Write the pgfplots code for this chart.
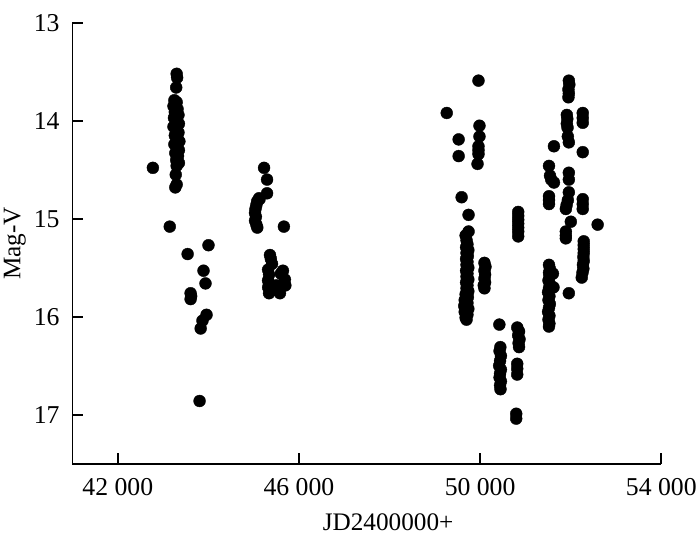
\documentclass[border=0pt]{standalone}
\usepackage{pgfplots}
\pgfplotsset{compat=1.18}
\usepackage{fontspec}
\setmainfont{Liberation Serif}
\begin{document}
\begin{tikzpicture}
\useasboundingbox (-73bp,-82bp) rectangle (632bp,467bp);
\begin{axis}[
  at={(0,0)}, anchor=south west,
  scale only axis, width=593bp, height=444bp,
  xmin=41000, xmax=54000, ymin=13, ymax=17.5,
  y dir=reverse,
  scaled x ticks=false,
  axis x line*=bottom, axis y line*=left,
  axis line style={line width=1.8bp},
  tick align=inside,
  major tick length=11bp,
  every tick/.style={line width=1.8bp, black},
  xtick={42000,46000,50000,54000},
  xticklabels={42 000,46 000,50 000,54 000},
  ytick={13,14,15,16,17},
  /pgf/number format/assume math mode=true,
  tick label style={font=\fontsize{26}{30}\selectfont},
  xticklabel style={anchor=center, yshift=-24bp},
  yticklabel style={anchor=center, xshift=-26bp},
  label style={font=\fontsize{25.5}{29}\selectfont},
  xlabel={JD2400000+},
  ylabel={Mag-V},
  xlabel style={at={(axis description cs:0.536,-0.133)}, anchor=center},
  ylabel style={at={(axis description cs:-0.098,0.5)}, anchor=center, rotate=0},
  clip=false,
]
\addplot[only marks, mark=*, mark size=6bp, black] coordinates {
(42775,14.48)
(43300,13.52)(43310,13.56)(43290,13.66)
(43250,13.79)(43300,13.81)(43230,13.85)(43320,13.88)(43260,13.91)(43340,13.94)(43240,13.97)(43300,14.00)(43350,14.03)(43230,14.06)(43300,14.09)(43340,14.12)(43260,14.15)(43320,14.18)(43360,14.21)(43250,14.24)(43310,14.27)(43350,14.30)(43270,14.33)(43330,14.36)(43290,14.40)(43350,14.43)(43300,14.46)
(43280,14.55)(43300,14.65)(43270,14.68)
(43148,15.08)(43542,15.36)(44003,15.27)(43893,15.53)(43937,15.66)(43608,15.76)(43620,15.79)(43608,15.82)(43960,15.98)(43870,16.04)(43830,16.12)(43806,16.86)
(45230,14.48)(45296,14.60)(45296,14.74)
(45121,14.79)(45080,14.82)(45060,14.86)(45040,14.90)(45030,14.94)(45050,14.98)(45030,15.02)(45060,15.06)(45080,15.09)(45130,14.80)
(45668,15.08)
(45360,15.37)(45380,15.41)(45406,15.46)(45318,15.52)(45647,15.53)(45340,15.57)(45318,15.63)(45320,15.70)(45340,15.76)(45600,15.56)(45690,15.62)(45700,15.68)(45581,15.76)(45500,15.68)(45450,15.72)
(49964,13.59)(49263,13.92)(49986,14.05)(49986,14.16)(49964,14.26)(49964,14.30)(49964,14.34)(49943,14.44)(49526,14.19)(49526,14.36)(49592,14.78)(49745,14.96)(49745,15.13)(49680,15.17)
(49701,15.22)(49720,15.26)(49690,15.29)(49740,15.32)(49700,15.35)(49730,15.38)(49690,15.41)(49720,15.44)(49700,15.47)(49740,15.50)(49690,15.53)(49720,15.56)(49700,15.59)(49740,15.62)(49690,15.65)(49720,15.68)(49700,15.71)(49740,15.74)(49680,15.77)(49730,15.80)(49660,15.83)(49720,15.86)(49650,15.89)(49740,15.92)(49660,15.95)(49720,15.98)(49680,16.01)(49700,16.03)
(50096,15.45)(50118,15.49)(50096,15.53)(50110,15.57)(50096,15.61)(50110,15.65)(50080,15.68)(50096,15.71)
(50841,14.93)(50841,14.97)(50841,15.01)(50841,15.05)(50841,15.09)(50841,15.13)(50841,15.18)
(50425,16.08)
(50447,16.31)(50430,16.35)(50460,16.40)(50440,16.45)(50420,16.50)(50460,16.54)(50440,16.58)(50430,16.62)(50460,16.66)(50440,16.70)(50450,16.74)
(50820,16.11)(50860,16.15)(50840,16.19)(50870,16.23)(50850,16.27)(50860,16.31)
(50819,16.48)(50819,16.53)(50819,16.59)
(50797,16.99)(50797,17.04)
(51959,13.59)(51970,13.63)(51950,13.68)(51959,13.72)(51950,13.76)
(51915,13.94)(51925,13.98)(51915,14.03)(51930,14.07)
(52266,13.92)(52266,13.97)(52266,14.02)
(51937,14.16)(51959,14.22)
(51630,14.26)
(52266,14.32)
(51521,14.46)(51543,14.56)(51570,14.60)(51630,14.63)
(51959,14.53)(51959,14.60)
(51521,14.77)(51521,14.81)(51521,14.85)
(51959,14.73)(51937,14.81)(51910,14.86)(51893,14.90)
(52266,14.80)(52266,14.85)(52266,14.90)
(52003,15.03)(51893,15.13)(51893,15.17)(51893,15.20)
(52595,15.06)
(52288,15.23)(52288,15.27)(52288,15.31)(52288,15.35)(52280,15.39)(52288,15.43)(52270,15.47)(52280,15.51)(52260,15.55)(52244,15.60)
(51959,15.76)
(51521,15.47)(51540,15.51)(51608,15.56)(51521,15.55)(51530,15.59)(51510,15.63)(51540,15.67)(51520,15.71)(51500,15.75)(51530,15.79)(51510,15.83)(51540,15.87)(51520,15.91)(51500,15.95)(51530,15.99)(51510,16.03)(51530,16.07)(51520,16.10)(51620,15.70)
};
\end{axis}
\end{tikzpicture}
\end{document}
